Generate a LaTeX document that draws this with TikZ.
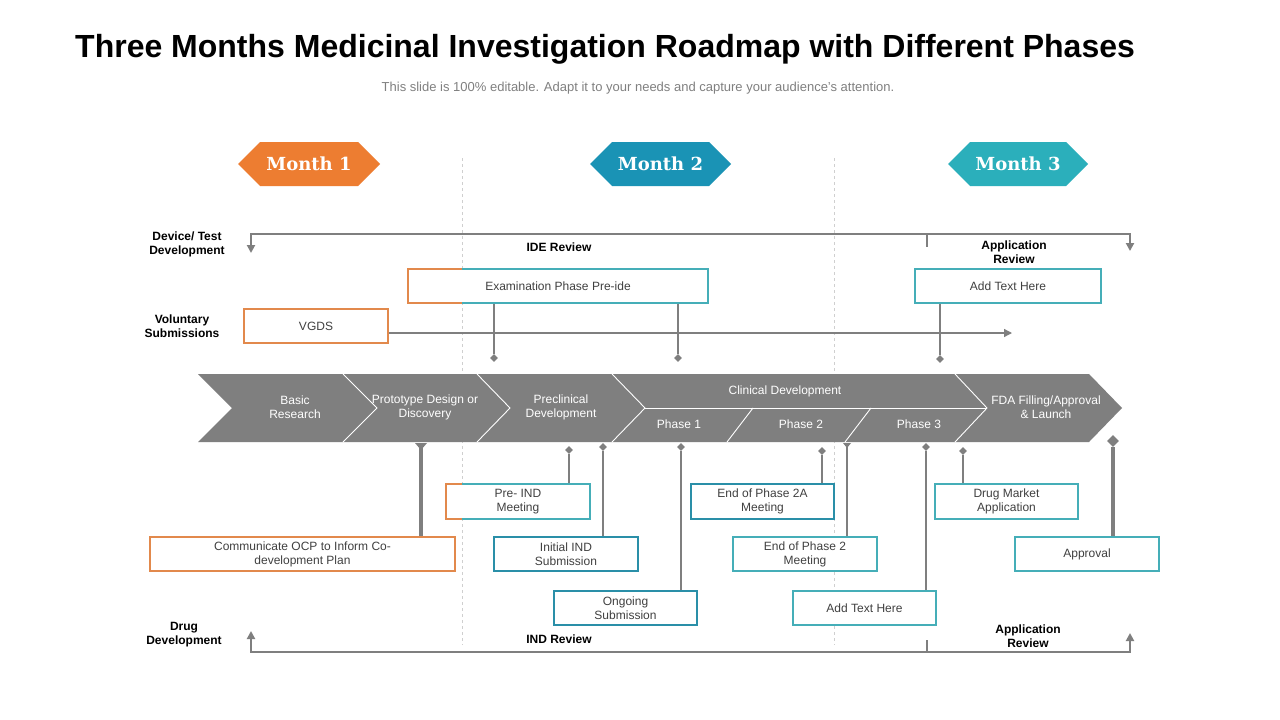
\documentclass[tikz,border=0pt]{standalone}
\usepackage{fontspec}
\setmainfont{Liberation Sans}
\newfontfamily\monthfont{DejaVu Serif}
\usetikzlibrary{arrows.meta,shapes.geometric}
\definecolor{orangeM}{HTML}{ED7D31}
\definecolor{orangeB}{HTML}{E2894C}
\definecolor{blueM}{HTML}{1A93B5}
\definecolor{tealM}{HTML}{2BAFBB}
\definecolor{tealD}{HTML}{2A8FA8}
\definecolor{tealL}{HTML}{45AEB8}
\definecolor{grayC}{HTML}{7F7F7F}
\definecolor{dashgray}{HTML}{CFCFCF}
\definecolor{boxtext}{HTML}{404040}
\definecolor{subgray}{HTML}{808080}
\begin{document}
\begin{tikzpicture}[x=1pt,y=-1pt,
  box/.style={draw, fill=white, line width=2pt, minimum height=34pt, inner sep=0pt,
    align=center, text=boxtext, font=\fontsize{12}{14}\selectfont},
  obox/.style={box, draw=orangeB},
  dbox/.style={box, draw=tealD},
  lbox/.style={box, draw=tealL},
  lbl/.style={align=center, font=\fontsize{12}{14}\selectfont\bfseries, text=black, inner sep=0pt},
  chevtxt/.style={align=center, text=white, font=\fontsize{12}{14}\selectfont, inner sep=0pt},
  monthtxt/.style={text=white, font=\monthfont\bfseries\fontsize{18}{20}\selectfont, inner sep=0pt},
  conn/.style={draw=grayC, line width=1.3pt},
  bracket/.style={draw=grayC, line width=2pt},
  dia/.style={diamond, fill=grayC, minimum size=8pt, inner sep=0pt},
  bigdia/.style={diamond, fill=grayC, minimum size=12pt, inner sep=0pt},
  tip/.style={-{Triangle[width=8pt,length=8pt]}},
  btips/.style={{Triangle[width=8pt,length=8pt]}-{Triangle[width=8pt,length=8pt]}},
  divider/.style={draw=white, line width=0.9pt},
  monthdash/.style={draw=dashgray, line width=0.8pt, dashed}
]
\useasboundingbox (0,0) rectangle (1280,720);
\fill[white] (0,0) rectangle (1280,720);

% title
\node[anchor=west, inner sep=0pt, font=\fontsize{32}{36}\selectfont\bfseries] (title) at (75,49)
  {Three Months Medicinal Investigation Roadmap with Different Phases};
\node[text=subgray, font=\fontsize{13}{15}\selectfont, inner sep=0pt] (sub) at (638,88)
  {This slide is 100\% editable. Adapt it to your needs and capture your audience's attention.};

% dashed month separators
\coordinate (sepAtop) at (462,158); \coordinate (sepAbot) at (462,645);
\coordinate (sepBtop) at (834,158); \coordinate (sepBbot) at (834,645);
\draw[monthdash] (sepAtop) -- (sepAbot);
\draw[monthdash] (sepBtop) -- (sepBbot);

% month hexagons
\fill[orangeM] (238,164) -- (260,142) -- (358,142) -- (380,164) -- (358,186) -- (260,186) -- cycle;
\node[monthtxt] (m1) at (309,164) {Month 1};
\fill[blueM] (590,164) -- (612,142) -- (709,142) -- (731,164) -- (709,186) -- (612,186) -- cycle;
\node[monthtxt] (m2) at (660.5,164) {Month 2};
\fill[tealM] (948,164) -- (970,142) -- (1066,142) -- (1088,164) -- (1066,186) -- (970,186) -- cycle;
\node[monthtxt] (m3) at (1018,164) {Month 3};

% top bracket
\coordinate (tbL) at (251,253); \coordinate (tbLc) at (251,234);
\coordinate (tbR) at (1130,251); \coordinate (tbRc) at (1130,234);
\coordinate (tbT) at (927,234); \coordinate (tbTe) at (927,247);
\draw[bracket, btips] (tbL) -- (tbLc) -- (tbRc) -- (tbR);
\draw[bracket] (tbT) -- (tbTe);
\node[lbl] (devtest) at (187,244) {Device/ Test\\Development};
\node[lbl] (ide) at (559,247) {IDE Review};
\node[lbl] (apprtop) at (1014,252) {Application\\Review};
\node[lbl] (volsub) at (182,326) {Voluntary\\Submissions};

% bottom bracket
\coordinate (bbL) at (251,631); \coordinate (bbLc) at (251,652);
\coordinate (bbR) at (1130,633); \coordinate (bbRc) at (1130,652);
\coordinate (bbT) at (927,652); \coordinate (bbTe) at (927,640);
\draw[bracket, btips] (bbL) -- (bbLc) -- (bbRc) -- (bbR);
\draw[bracket] (bbT) -- (bbTe);
\node[lbl] (drugdev) at (184,635) {Drug\\Development};
\node[lbl] (ind) at (559,639) {IND Review};
\node[lbl] (apprbot) at (1028,636) {Application\\Review};

% top boxes
\node[lbox, minimum width=300pt] (exam) at (558,286) {Examination Phase Pre-ide};
\draw[orangeB, line width=2pt] (462,269) -- (408,269) -- (408,303) -- (462,303);
\node[lbox, minimum width=186pt] (addtop) at (1008,286) {Add Text Here};
\node[obox, minimum width=144pt] (vgds) at (316,326) {VGDS};

\coordinate (vgdsend) at (1012,333);
\draw[conn, tip] (vgds.east |- vgdsend) -- (vgdsend);

\node[dia] (d1) at (494,358) {};
\node[dia] (d2) at (678,358) {};
\node[dia] (d3) at (940,359) {};
\draw[conn] (exam.south -| d1) -- (d1);
\draw[conn] (exam.south -| d2) -- (d2);
\draw[conn] (addtop.south -| d3) -- (d3);

% chevron band
\fill[grayC] (198,374) -- (1089,374) -- (1122,408) -- (1089,442) -- (198,442) -- (232,408) -- cycle;
\draw[divider] (343,374) -- (377,408) -- (343,442);
\draw[divider] (477,374) -- (510,408) -- (477,442);
\draw[divider] (612,374) -- (645,408) -- (612,442);
\draw[divider] (645,408) -- (987,408);
\draw[divider] (955,374) -- (987,408) -- (955,442);
\draw[divider] (753,408) -- (727,442);
\draw[divider] (871,408) -- (845,442);
\node[chevtxt] (s1) at (295,407) {Basic\\Research};
\node[chevtxt] (s2) at (425,407) {Prototype Design or\\Discovery};
\node[chevtxt] (s3) at (561,407) {Preclinical\\Development};
\node[chevtxt] (s4) at (785,391) {Clinical Development};
\node[chevtxt] (p1) at (679,424) {Phase 1};
\node[chevtxt] (p2) at (801,424) {Phase 2};
\node[chevtxt] (p3) at (919,424) {Phase 3};
\node[chevtxt] (s5) at (1046,407) {FDA Filling/Approval\\\& Launch};

% bottom boxes
\node[lbox, minimum width=144pt, minimum height=35pt] (preind) at (518,501.5) {Pre- IND\\Meeting};
\draw[orangeB, line width=2pt] (462,484) -- (446,484) -- (446,519) -- (462,519);
\node[obox, minimum width=305pt] (ocp) at (302.5,554) {Communicate OCP to Inform Co-\\development Plan};
\node[dbox, minimum width=144pt] (initind) at (566,554) {Initial IND\\Submission};
\node[dbox, minimum width=143pt] (ongoing) at (625.5,608) {Ongoing\\Submission};
\node[dbox, minimum width=143pt, minimum height=35pt] (eop2a) at (762.5,501.5) {End of Phase 2A\\Meeting};
\node[lbox, minimum width=144pt] (eop2) at (805,554) {End of Phase 2\\Meeting};
\node[lbox, minimum width=143pt] (addbot) at (864.5,608) {Add Text Here};
\node[lbox, minimum width=143pt, minimum height=35pt] (dma) at (1006.5,501.5) {Drug Market\\Application};
\node[lbox, minimum width=144pt] (approval) at (1087,554) {Approval};

% bottom connectors
\node[dia] (d4) at (569,450) {};
\node[dia] (d5) at (603,447) {};
\node[dia] (d6) at (681,447) {};
\node[dia] (d7) at (822,451) {};
\node[dia] (d8) at (926,447) {};
\node[dia] (d9) at (963,451) {};
\node[bigdia] (d10) at (1113,441) {};
\coordinate (t1) at (421,446);
\coordinate (t2) at (847,446);
\draw[conn] (d4) -- (d4 |- preind.north);
\draw[conn] (d5) -- (d5 |- initind.north);
\draw[conn] (d6) -- (d6 |- ongoing.north);
\draw[conn] (d7) -- (d7 |- eop2a.north);
\draw[conn] (d8) -- (d8 |- addbot.north);
\draw[conn] (d9) -- (d9 |- dma.north);
\draw[conn, line width=4pt] (d10) -- (d10 |- approval.north);
\draw[conn, line width=4pt] (t1) -- (t1 |- ocp.north);
\fill[grayC] (415,443) -- (427,443) -- (421,450) -- cycle;
\draw[conn] (t2) -- (t2 |- eop2.north);
\fill[grayC] (843,443) -- (851,443) -- (847,448) -- cycle;
\end{tikzpicture}
\end{document}
